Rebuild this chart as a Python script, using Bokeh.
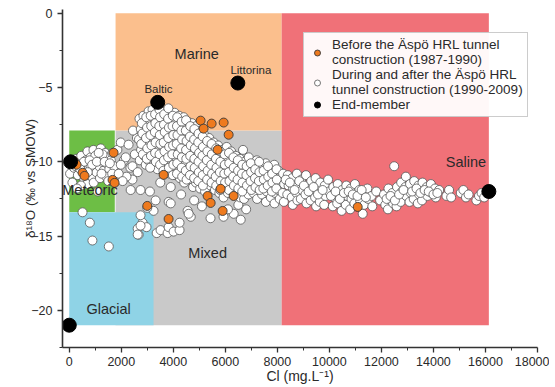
from bokeh.plotting import figure
from bokeh.models import Range1d, Legend, LegendItem, FixedTicker
from bokeh.embed import file_html
from bokeh.resources import INLINE
from bokeh.core.properties import value

# ---------------- data ----------------
region_names = ["Mixed", "Marine", "Saline", "Meteoric", "Glacial"]
region_left = [1780, 1780, 8165, 0, 0]
region_right = [8165, 8165, 16130, 1750, 3240]
region_bottom = [-21.0, -7.9, -21.0, -13.4, -21.0]
region_top = [-7.9, 0.0, 0.0, -7.9, -13.4]

label_text = ["Marine", "Littorina", "Baltic", "Saline", "Meteoric", "Mixed", "Glacial"]
label_x = [4900, 6980, 3430, 15250, 800, 5320, 1510]
label_y = [-2.77, -3.85, -5.1, -10.0, -11.9, -16.15, -19.9]

end_x = [0, 50, 3400, 6480, 16130]
end_y = [-21.0, -10.0, -6.0, -4.7, -12.0]

before_pts = [(165, -9.93), (281, -10.2), (512, -10.74), (588, -10.95), (1704, -9.39),
              (1665, -11.22), (1742, -11.42), (2999, -12.97), (3819, -13.85), (3627, -10.88),
              (5050, -7.23), (5165, -7.77), (5473, -7.43), (5935, -7.36), (6127, -8.18),
              (5704, -9.19), (5319, -12.30), (5435, -12.77), (5819, -11.82), (6319, -12.30),
              (5896, -13.31), (11088, -13.04)]

meteoric_pts = [(30, -10.8), (120, -11.4), (180, -10.4), (260, -9.8), (330, -10.9), (390, -10.2),
                (460, -9.6), (520, -10.6), (580, -11.2), (640, -9.9), (700, -9.3), (760, -10.4),
                (820, -9.7), (870, -11.0), (930, -9.2), (980, -10.1), (1040, -10.7), (1090, -9.5),
                (1150, -10.3), (1210, -9.1), (1260, -10.0), (1320, -10.6), (1380, -9.4), (1430, -10.1),
                (1490, -9.7), (1540, -10.5), (1600, -9.9), (1660, -9.4), (1720, -10.3), (690, -11.5),
                (940, -11.4), (1180, -11.1), (1420, -11.0), (450, -11.6), (820, -10.3), (1000, -9.6),
                (560, -10.0), (1280, -9.5), (1500, -11.3), (300, -11.8), (1100, -12.0),
                (250, -10.3), (420, -10.5), (600, -10.8), (780, -9.9), (880, -10.2), (1060, -10.0),
                (1240, -10.8), (1360, -10.0), (1560, -10.1), (1650, -10.8), (710, -10.7), (1130, -9.4)]

glacial_pts = [(510, -13.4), (790, -14.1), (890, -15.3), (1520, -15.7)]

gray_left_pts = [(1850, -9.2), (1980, -8.7), (2100, -9.9), (2170, -9.7), (2280, -8.85), (2350, -10.4),
                 (1980, -10.2), (2430, -10.3), (2630, -10.7), (2430, -11.2), (2360, -11.9), (2740, -11.9),
                 (2200, -11.0), (1900, -10.8), (2050, -11.3), (2520, -9.5), (2600, -8.4), (2450, -7.9)]

lower_pts = [(2630, -14.5), (2670, -14.9), (2820, -14.1), (2970, -14.4), (2740, -13.6), (3240, -13.3),
             (3360, -14.8), (3510, -14.6), (3780, -14.8), (3820, -14.4), (4010, -14.7), (4240, -14.6),
             (4240, -14.1), (3820, -12.7), (3900, -12.8), (4550, -13.3), (4670, -13.7), (4590, -13.5),
             (5430, -13.8), (5930, -13.7), (6320, -13.5), (6590, -13.9), (3320, -12.6), (2740, -14.3),
             (2630, -14.9), (3100, -12.0), (3500, -11.4), (3900, -11.7), (4300, -12.2), (4800, -12.6),
             (5100, -13.0), (6100, -13.2), (6800, -13.2), (6500, -12.9), (3000, -13.1)]

band_pts = [
    (2700, -7.1), (2750, -7.8), (2680, -8.5), (2760, -9.2), (2710, -9.9), (2850, -6.9), (2900, -7.5),
    (2870, -8.2), (2920, -8.9), (2880, -9.6), (2940, -10.2), (3050, -6.6), (3080, -7.2), (3020, -7.9),
    (3060, -8.6), (3100, -9.3), (3040, -9.9),
    (3200, -6.5), (3250, -7.0), (3180, -7.6), (3230, -8.3), (3210, -9.0), (3260, -9.7), (3190, -10.3),
    (3380, -6.7), (3420, -7.3), (3350, -7.9), (3400, -8.5), (3370, -9.1), (3430, -9.8), (3390, -10.5),
    (3550, -6.5), (3580, -7.1), (3520, -7.7), (3570, -8.3), (3540, -8.9), (3600, -9.5), (3560, -10.1),
    (3720, -6.6), (3760, -7.3), (3700, -7.9), (3750, -8.6), (3730, -9.2), (3780, -9.9), (3710, -10.5),
    (3880, -6.8), (3920, -7.5), (3860, -8.1), (3910, -8.8), (3890, -9.4), (3940, -10.1), (3870, -10.8),
    (4050, -6.7), (4080, -7.2), (4030, -7.8), (4090, -8.4), (4060, -9.0), (4100, -9.7), (4040, -10.3),
    (4070, -10.9),
    (4220, -6.9), (4250, -7.5), (4200, -8.1), (4260, -8.7), (4230, -9.3), (4270, -9.9), (4210, -10.5),
    (4250, -11.1), (4400, -7.0), (4430, -7.7), (4380, -8.3), (4440, -8.9), (4410, -9.5), (4450, -10.2),
    (4390, -10.8), (4420, -11.4), (4560, -7.3), (4590, -7.9), (4550, -8.5), (4600, -9.1), (4570, -9.8),
    (4610, -10.4), (4540, -11.0),
    (4720, -7.4), (4760, -8.1), (4700, -8.7), (4750, -9.3), (4730, -10.0), (4770, -10.6), (4710, -11.2),
    (4760, -11.7), (4880, -7.6), (4920, -8.3), (4860, -8.9), (4910, -9.6), (4890, -10.2), (4930, -10.8),
    (4870, -11.4), (5040, -7.9), (5080, -8.6), (5020, -9.2), (5070, -9.8), (5050, -10.5), (5090, -11.1),
    (5030, -11.8),
    (5200, -8.2), (5250, -8.9), (5190, -9.5), (5240, -10.1), (5210, -10.7), (5260, -11.4), (5220, -12.0),
    (5380, -8.4), (5420, -9.1), (5360, -9.7), (5410, -10.3), (5390, -10.9), (5430, -11.6), (5550, -8.7),
    (5590, -9.4), (5530, -10.0), (5580, -10.6), (5560, -11.2), (5600, -11.9),
    (5720, -8.9), (5760, -9.6), (5700, -10.2), (5750, -10.8), (5730, -11.4), (5770, -12.1), (5880, -9.2),
    (5920, -9.9), (5860, -10.5), (5910, -11.1), (5890, -11.7), (5930, -12.4), (6050, -9.0), (6080, -9.7),
    (6030, -10.3), (6090, -10.9), (6060, -11.5), (6100, -12.1),
    (6220, -9.3), (6260, -10.0), (6200, -10.6), (6250, -11.2), (6230, -11.8), (6400, -9.6), (6430, -10.3),
    (6380, -10.9), (6440, -11.5), (6410, -12.1), (6560, -9.8), (6600, -10.5), (6550, -11.1), (6590, -11.7),
    (6570, -12.4), (6680, -9.2),
    (6730, -10.0), (6760, -10.7), (6700, -11.3), (6750, -11.9), (6720, -12.5), (6900, -9.7), (6930, -10.4),
    (6880, -11.0), (6920, -11.6), (6890, -12.2), (7060, -10.2), (7090, -10.9), (7030, -11.5), (7080, -12.1),
    (7210, -9.9), (7240, -10.6), (7200, -11.2), (7250, -11.8), (7220, -12.5),
    (7380, -10.3), (7420, -11.0), (7360, -11.6), (7410, -12.2), (7550, -10.1), (7580, -10.8), (7530, -11.4),
    (7590, -12.0), (7560, -12.7), (7720, -10.5), (7760, -11.2), (7700, -11.8), (7750, -12.4), (7880, -10.2),
    (7920, -10.9), (7860, -11.5), (7910, -12.1), (7890, -12.8), (8050, -10.6), (8080, -11.3), (8030, -11.9),
    (8090, -12.5),
]

band_fill_pts = [
    (2790, -7.4), (2810, -8.1), (2770, -8.8), (2830, -9.5), (2960, -7.0), (2990, -7.7), (2950, -8.4),
    (3000, -9.1), (2980, -9.8), (3130, -6.9), (3150, -7.6), (3120, -8.2), (3160, -8.9), (3140, -9.6),
    (3110, -10.4), (3300, -6.8), (3310, -7.4), (3290, -8.0), (3320, -8.7), (3300, -9.4), (3330, -10.0),
    (3470, -6.5), (3490, -7.0), (3460, -7.6), (3480, -8.2), (3500, -8.8), (3470, -9.5), (3490, -10.2),
    (3650, -6.8), (3640, -7.5), (3670, -8.0), (3630, -8.7), (3660, -9.3), (3640, -9.9), (3620, -10.6),
    (3810, -6.4), (3800, -7.1), (3830, -7.7), (3810, -8.4), (3840, -9.0), (3800, -9.7), (3830, -10.4),
    (3980, -6.9), (3970, -7.6), (4000, -8.2), (3990, -8.9), (3960, -9.5), (4000, -10.2), (3980, -10.9),
    (4150, -7.0), (4140, -7.6), (4160, -8.2), (4130, -8.8), (4170, -9.5), (4150, -10.1), (4140, -10.8),
    (4320, -7.3), (4310, -7.9), (4340, -8.5), (4300, -9.1), (4330, -9.7), (4320, -10.4), (4340, -11.0),
    (4490, -7.2), (4480, -7.9), (4510, -8.6), (4490, -9.2), (4500, -9.8), (4480, -10.6), (4510, -11.2),
    (4650, -7.6), (4640, -8.3), (4670, -8.9), (4650, -9.6), (4660, -10.3), (4640, -10.9),
    (4810, -7.8), (4800, -8.5), (4830, -9.1), (4810, -9.8), (4820, -10.4), (4800, -11.1),
    (4970, -8.1), (4960, -8.7), (4990, -9.4), (4970, -10.0), (4980, -10.7), (4960, -11.3),
    (5130, -8.3), (5140, -9.0), (5120, -9.6), (5150, -10.3), (5130, -10.9), (5140, -11.6),
    (5300, -8.6), (5310, -9.3), (5290, -9.9), (5320, -10.6), (5300, -11.2),
    (5470, -8.8), (5480, -9.5), (5460, -10.2), (5490, -10.8), (5470, -11.4),
    (5650, -9.1), (5640, -9.8), (5660, -10.4), (5630, -11.0), (5650, -11.6),
    (5800, -9.3), (5810, -10.0), (5790, -10.7), (5820, -11.3), (5800, -11.9),
    (5970, -9.5), (5980, -10.2), (5960, -10.8), (5990, -11.4),
    (6140, -9.4), (6150, -10.1), (6130, -10.7), (6160, -11.3), (6140, -11.9),
    (6310, -9.7), (6320, -10.4), (6300, -11.0), (6330, -11.6),
    (6480, -9.9), (6490, -10.6), (6470, -11.2), (6500, -11.8),
    (6650, -10.2), (6640, -10.8), (6660, -11.4), (6650, -12.0),
    (6820, -10.3), (6810, -10.9), (6830, -11.6), (6980, -10.1), (6990, -10.7), (6970, -11.3), (7000, -11.9),
    (7150, -10.5), (7140, -11.1), (7160, -11.7), (7300, -10.0), (7310, -10.7), (7290, -11.3), (7320, -11.9),
    (7470, -10.6), (7480, -11.2), (7460, -11.8), (7640, -10.3), (7650, -11.0), (7630, -11.6),
    (7800, -10.8), (7810, -11.4), (7790, -12.0), (7970, -10.5), (7980, -11.2), (7960, -11.8),
]

saline_pts = [
    (8220, -10.8), (8260, -11.5), (8200, -12.1), (8250, -12.7), (8400, -10.9), (8430, -11.6), (8380, -12.2),
    (8570, -11.1), (8600, -11.8), (8550, -12.4), (8590, -12.9), (8750, -10.8), (8780, -11.5), (8730, -12.1),
    (8770, -12.6), (8920, -11.2), (8950, -11.9), (8900, -12.5),
    (9100, -10.9), (9130, -11.6), (9080, -12.2), (9120, -12.8), (9300, -11.3), (9330, -12.0), (9280, -12.6),
    (9470, -11.1), (9500, -11.8), (9450, -12.4), (9490, -13.0), (9650, -11.4), (9680, -12.1), (9630, -12.7),
    (9820, -11.6), (9850, -12.3), (9800, -12.9), (9950, -11.2), (9980, -12.0),
    (10150, -11.7), (10180, -12.4), (10130, -13.0), (10320, -11.5), (10350, -12.2), (10300, -12.8),
    (10480, -11.9), (10510, -12.6), (10470, -13.3), (10650, -11.6), (10680, -12.3), (10630, -12.9),
    (10820, -11.8), (10850, -12.5), (10800, -13.2), (10980, -11.5), (11010, -12.2), (10960, -12.8),
    (11150, -11.9), (11180, -12.6), (11300, -12.2), (11330, -12.9), (11280, -13.5), (11460, -11.8),
    (11490, -12.5), (11620, -12.3), (11650, -13.0),
    (11800, -12.0), (11950, -12.6), (12100, -12.2), (12150, -12.9), (12270, -11.8), (12300, -12.5),
    (12250, -13.2), (12420, -12.1), (12450, -12.8), (12490, -10.3), (12600, -11.7), (12630, -12.4),
    (12580, -13.0), (12760, -11.4), (12790, -12.0), (12740, -12.7), (12940, -11.0), (12920, -11.7),
    (12950, -12.3),
    (13100, -11.5), (13130, -12.1), (13080, -12.7), (13260, -11.3), (13290, -11.9), (13240, -12.5),
    (13420, -11.6), (13450, -12.2), (13400, -12.8), (13580, -11.4), (13610, -12.0), (13560, -12.6),
    (13740, -11.7), (13770, -12.3), (13900, -11.5), (13930, -12.1), (14060, -11.8), (14090, -12.4),
    (14220, -11.9),
    (14500, -12.3), (14600, -11.9), (14680, -12.4), (15050, -12.1), (15150, -11.9), (15250, -12.4),
    (15350, -12.2), (15650, -12.6), (15750, -12.3), (15850, -12.1), (15950, -12.4),
    (8320, -11.2), (8480, -11.4), (8660, -11.9), (8840, -11.3), (9020, -11.6), (9200, -12.0), (9390, -11.7),
    (9560, -12.2), (9740, -11.9), (10060, -12.3), (10240, -12.0), (10400, -12.5), (10560, -12.1),
    (10740, -12.0), (10900, -12.2), (11080, -12.3), (11240, -11.9), (11400, -12.4), (12200, -12.5),
    (12350, -12.3), (12520, -12.6), (12680, -12.2), (12850, -11.9), (13180, -12.0), (13350, -11.8),
    (13500, -12.1), (13660, -11.9), (13820, -12.0), (14000, -12.2), (14150, -12.1),
]

x_ticks = [0, 2000, 4000, 6000, 8000, 10000, 12000, 14000, 16000, 18000]
x_minor = [1000, 3000, 5000, 7000, 9000, 11000, 13000, 15000, 17000]
y_ticks = [-20, -15, -10, -5, 0]
y_minor = [-22.5, -17.5, -12.5, -7.5, -2.5]

after_pts = meteoric_pts + glacial_pts + gray_left_pts + lower_pts + band_pts + band_fill_pts + saline_pts
after_x = [p[0] for p in after_pts]
after_y = [p[1] for p in after_pts]
before_x = [p[0] for p in before_pts]
before_y = [p[1] for p in before_pts]

# ---------------- styling ----------------
region_colors = {"Mixed": "#C9C9C9", "Marine": "#FBBF8D", "Saline": "#F07178",
                 "Meteoric": "#6DBE45", "Glacial": "#8FD3E6"}
FONT = "Liberation Sans"
TXT = "#2a2a2a"

p = figure(width=549, height=386, output_backend="svg", toolbar_location=None,
           x_range=Range1d(-260, 18000), y_range=Range1d(-22.5, 0.25),
           min_border_left=62, min_border_right=12, min_border_top=9, min_border_bottom=37)
p.frame_width = 475
p.frame_height = 338
p.outline_line_color = None
p.xgrid.visible = False
p.ygrid.visible = False
p.background_fill_color = "white"

p.quad(left=region_left, right=region_right, bottom=region_bottom, top=region_top,
       fill_color=[region_colors[n] for n in region_names], line_color=None)

r_after = p.scatter(after_x, after_y, size=9, fill_color="white", line_color="#555555", line_width=0.8)
r_before = p.scatter(before_x, before_y, size=9, fill_color="#EE7A1E", line_color="#3a3a3a", line_width=0.9)
r_end = p.scatter(end_x, end_y, size=14, fill_color="black", line_color="black")

small = {"Littorina", "Baltic"}
for t, x, y in zip(label_text, label_x, label_y):
    p.text(x=[x], y=[y], text=[t], text_font=value(FONT),
           text_font_size="11.5px" if t in small else "14.5px",
           text_color=TXT, text_align="center", text_baseline="middle")

for ax in (p.xaxis[0], p.yaxis[0]):
    ax.axis_line_color = "#333333"
    ax.axis_line_width = 1.6
    ax.major_tick_line_color = "#333333"
    ax.minor_tick_line_color = "#333333"
    ax.major_tick_line_width = 1.3
    ax.major_tick_out = 5
    ax.major_tick_in = 0
    ax.minor_tick_out = 3
    ax.minor_tick_in = 0
    ax.major_label_text_font = FONT
    ax.major_label_text_font_size = "12.5px"
    ax.major_label_text_color = TXT
    ax.axis_label_text_font = FONT
    ax.axis_label_text_font_size = "14px"
    ax.axis_label_text_font_style = "normal"
    ax.axis_label_text_color = TXT

p.xaxis.ticker = FixedTicker(ticks=x_ticks, minor_ticks=x_minor)
p.yaxis.ticker = FixedTicker(ticks=y_ticks, minor_ticks=y_minor)
p.xaxis.axis_label = "Cl (mg.L\u207b\u00b9)"
p.yaxis.axis_label = "\u03b4\u00b9\u2078O (\u2030 vs SMOW)"
p.yaxis.axis_label_text_font_size = "13.5px"
p.xaxis.major_label_standoff = 4
p.xaxis.axis_label_standoff = -1
p.yaxis.axis_label_standoff = -10

legend = Legend(items=[
    LegendItem(label="Before the \u00c4sp\u00f6 HRL tunnel\nconstruction (1987-1990)", renderers=[r_before]),
    LegendItem(label="During and after the \u00c4sp\u00f6 HRL\ntunnel construction (1990-2009)", renderers=[r_after]),
    LegendItem(label="End-member", renderers=[r_end]),
], location=(241, 230))
legend.label_text_font = FONT
legend.label_text_font_size = "13.5px"
legend.label_text_color = TXT
legend.label_text_line_height = 1.12
legend.border_line_color = "#999999"
legend.border_line_width = 1
legend.padding = 4
legend.spacing = 0
legend.margin = 0
legend.glyph_width = 18
legend.glyph_height = 15
legend.label_standoff = 6
legend.label_height = 15
p.add_layout(legend, "center")

open("out.html", "w").write(file_html(p, INLINE))
